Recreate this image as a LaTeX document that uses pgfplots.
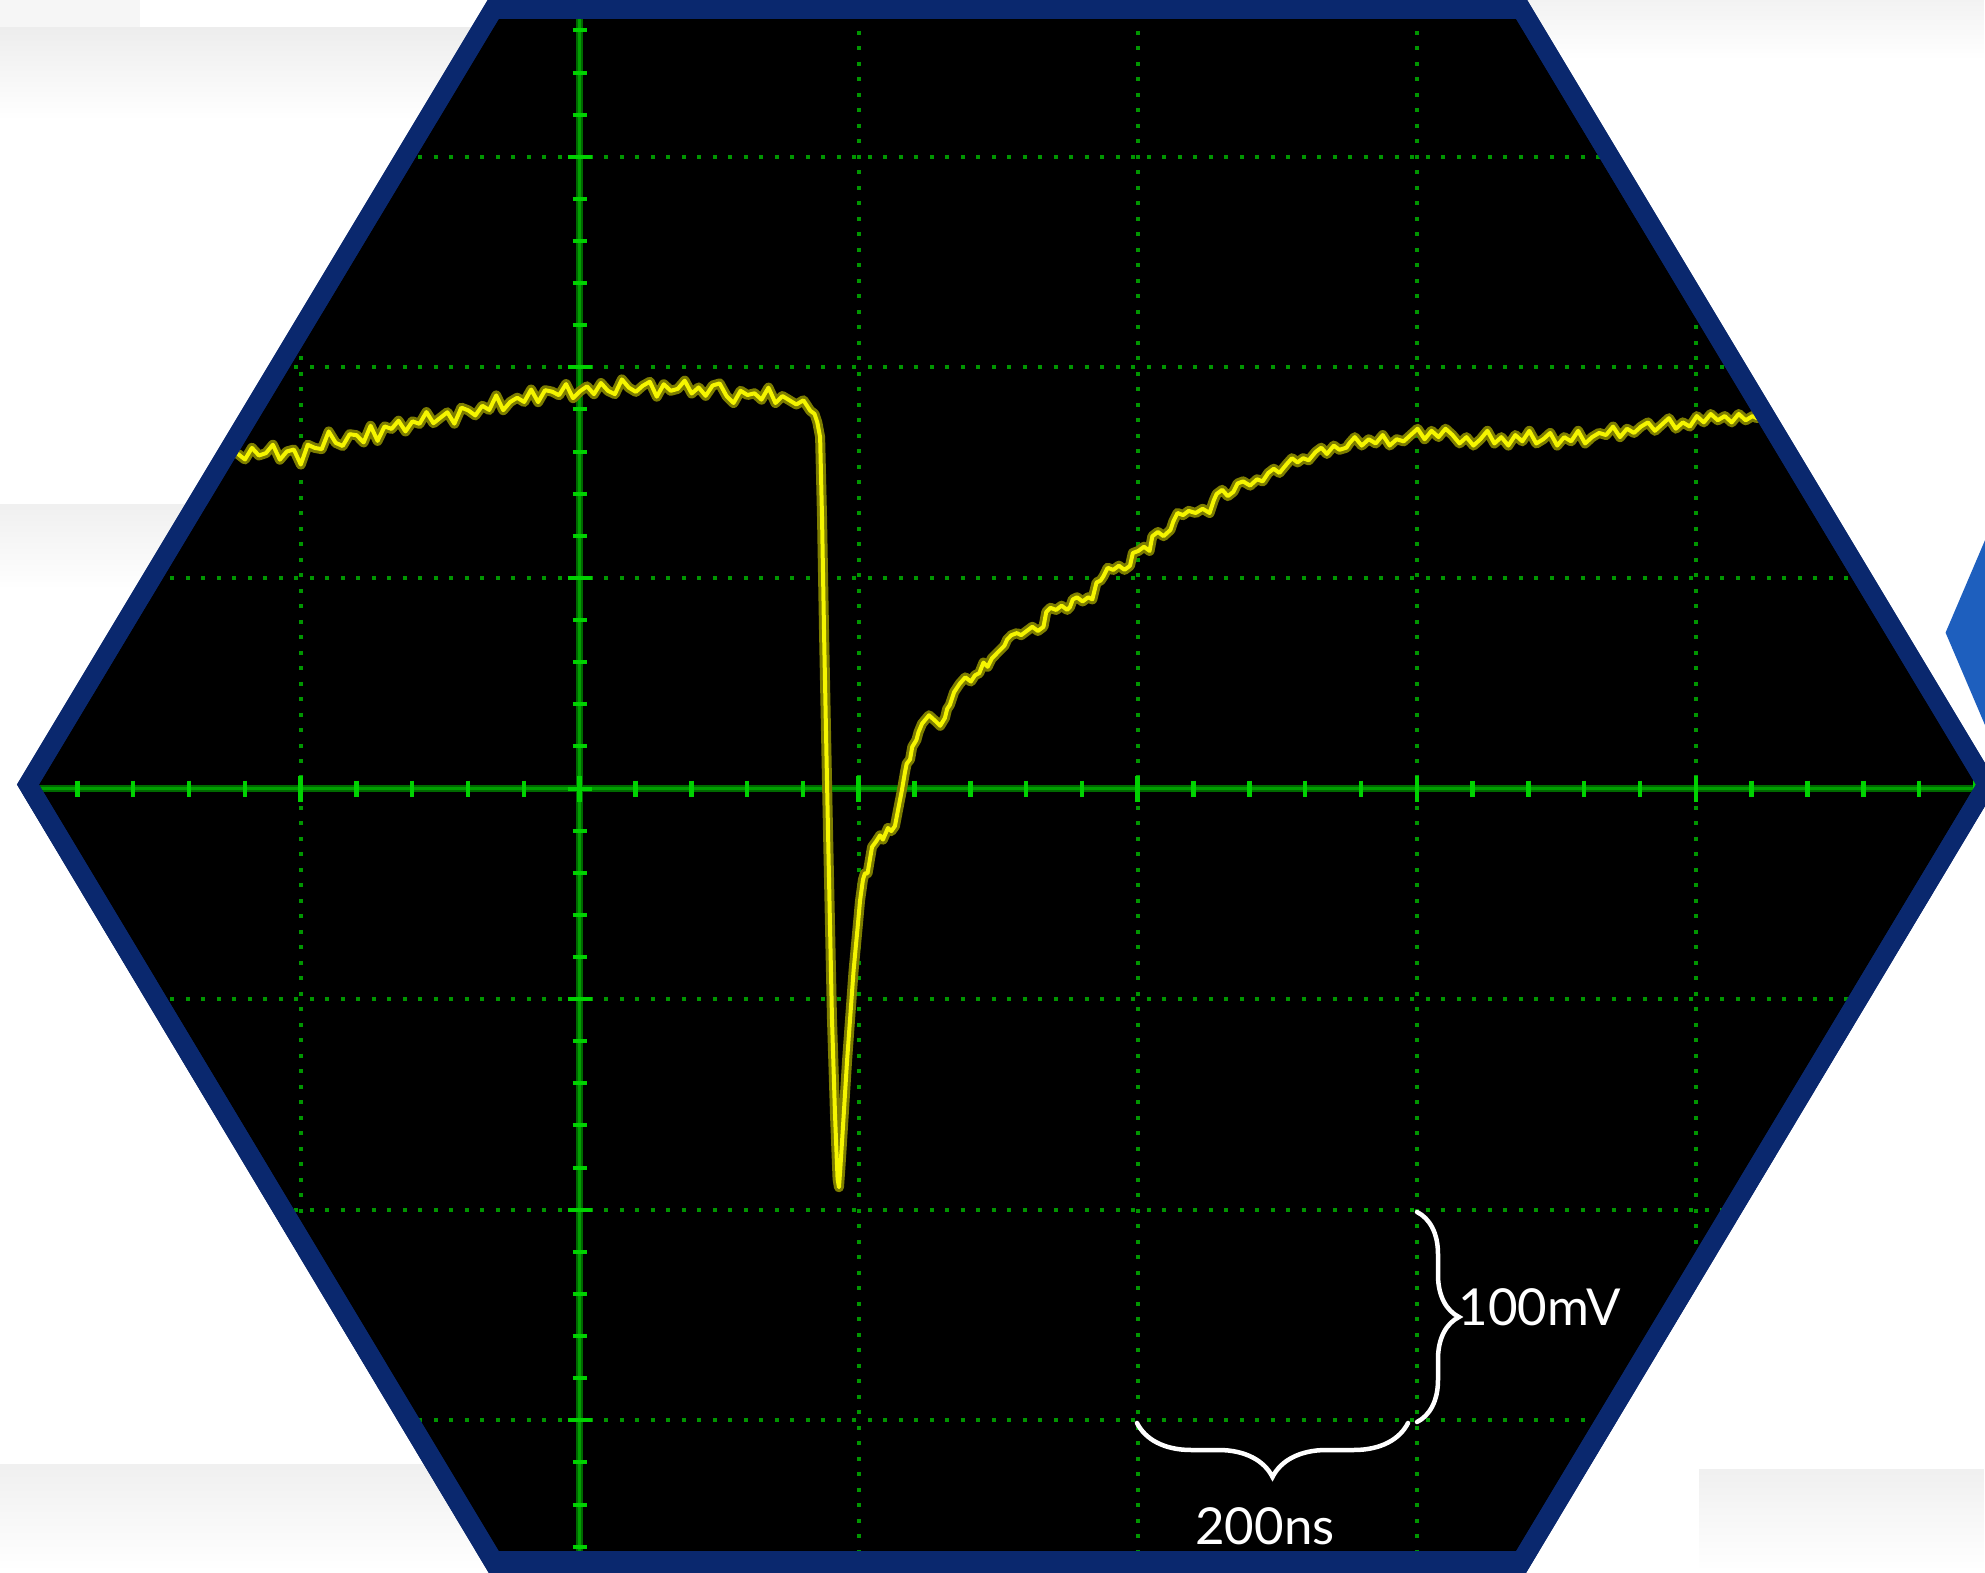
\documentclass[border=0pt]{standalone}
\usepackage{pgfplots}
\usepackage{pgfplotstable}
\pgfplotsset{compat=1.18}
\usetikzlibrary{decorations.pathreplacing}
\usepackage{fontspec}
\setmainfont{Lato}
\definecolor{navy}{RGB}{10,40,110}
\definecolor{sblue}{RGB}{30,95,190}
\definecolor{gridg}{RGB}{0,150,0}
\definecolor{axg}{RGB}{0,105,0}
\definecolor{axgl}{RGB}{0,160,0}
\definecolor{tickg}{RGB}{0,210,0}
\definecolor{olivetr}{RGB}{125,125,0}
\definecolor{yellowtr}{RGB}{245,245,0}

% time in ns (200 ns/div), voltage in mV (100 mV/div)
\pgfplotstableread{
t v
-245 159.0
-240 156.4
-235 161.9
-230 158.3
-225 159.4
-220 163.4
-215 156.3
-210 160.2
-205 161.1
-200 154.0
-195 163.4
-190 161.9
-185 161.3
-180 169.7
-175 164.3
-170 162.8
-165 168.4
-160 167.9
-155 164.5
-150 172.4
-145 165.2
-140 172.1
-135 170.9
-130 174.8
-125 169.7
-120 174.5
-115 173.3
-110 178.9
-105 173.6
-100 176.2
-95 178.8
-90 173.4
-85 181.0
-80 179.7
-75 177.3
-70 181.9
-65 179.9
-60 186.8
-55 179.8
-50 183.7
-45 185.7
-40 183.7
-35 189.6
-30 183.6
-25 189.3
-20 188.6
-15 186.9
-10 192.2
-5 185.5
0 188.8
5 191.1
10 187.4
15 192.7
20 189.0
25 187.4
30 194.4
35 190.5
40 188.5
45 191.4
50 193.3
55 186.2
60 192.1
65 189.0
70 189.9
75 193.8
80 187.7
85 190.6
90 186.6
95 191.5
100 192.5
105 186.5
110 183.2
115 189.0
120 187.0
125 187.8
130 184.8
135 190.5
140 183.2
145 186.5
150 184.5
155 182.5
160 184.5
165 179.5
168 178
170 174
172 167
173.4 128
174.8 75
176.2 28
177.6 -18
179 -62
180.5 -109
182.7 -155
184.5 -185
185.5 -189
186.5 -180
188.4 -160
191.3 -129
194.9 -96
196 -86
199.1 -64
200.6 -53
202.7 -43
204.1 -40
206 -40
209.2 -27.5
212 -25
214.9 -22
217 -24
220.6 -18.5
223 -20
225.6 -17.6
227.8 -10
230.6 -0.5
232.8 8
234 12
236.4 14
238 20
241 23.3
242.5 27
245 31
250 35
255 32
258 30
261.4 33.7
263 38
265 40
268 46
270 48
272 50
276 53
280 51
283 54
286 55
289 60
292 58
295 62
298 64
301 66
304 68
306 71
309 73
313 74
316 73
320 75
324 77
328 75
332 77
334 84
337 86
341 85
345 87
349 85
351 86.4
353 90
356 91
360 89
364 91
367 90
370 98
373 99
375 101
378 105
382 104
386 106
390 104
394 106
396 112
400 113
404 115
408 113
410 120
414 122
418 120
423 123
425 127
428 131
432 130
436 132
441 131
446 133
451 131
454 137
456 140
460 142
464 139
468 141
471 145
475 146
480 144
485 147
489 146
493 150
497 152
501 150
506 154
510 157
514 155
518 157
522 156
527 160
531 162
535 159
540 163
544 161
549 162
551 164
555 167
560 163
565 166
570 164
575 168
580 163
585 166
590 165
595 168
600 171
605 166
610 170
615 167
620 171
625 168
630 164
635 167
640 163
645 166
650 170
655 164
660 167
665 163
670 168
675 165
680 170
685 164
690 166
695 169
700 163
705 167
710 165
715 170
720 164
725 167
730 169
735 168
740 172
745 167
750 171
755 169
760 172
765 174
770 170
775 173
780 176
785 171
790 174
795 172
800 177
805 174
810 178
815 175
820 177
825 174
830 178
835 175
840 177
843 176
}\trace

\begin{document}
\begin{tikzpicture}
\path[use as bounding box] (0,0) rectangle (19.85cm,15.72cm);
\clip (0,0) rectangle (19.85cm,15.72cm);
% ---------- background, screen and graticule (pixel coordinates) ----------
\begin{scope}[shift={(0,15.72cm)}, x=0.01cm, y=-0.01cm]
  \fill[white] (0,0) rectangle (1985,1572);
  \fill[gray!7] (0,0) rectangle (140,28);
  \shade[top color=gray!14, bottom color=white] (0,28) rectangle (560,120);
  \shade[top color=gray!12, bottom color=white] (0,505) rectangle (560,590);
  \shade[top color=gray!12, bottom color=white] (0,1465) rectangle (560,1572);
  \shade[top color=gray!10, bottom color=white] (1480,0) rectangle (1985,60);
  \shade[top color=gray!12, bottom color=white] (1700,1470) rectangle (1985,1572);
  \fill[sblue] (1946.7,633) -- (2000,508) -- (2000,758) -- cycle;
  \fill[navy] (17,785) -- (489.2,-2) -- (1526.8,-2) -- (1999,785) -- (1526.8,1574) -- (489.2,1574) -- cycle;
  \fill[black] (39,785) -- (499,19) -- (1517,19) -- (1977,785) -- (1517,1552) -- (499,1552) -- cycle;
  \begin{scope}
    \clip (39,785) -- (499,19) -- (1517,19) -- (1977,785) -- (1517,1552) -- (499,1552) -- cycle;
    \foreach \yy in {156.9,367.6,578.3,999.7,1210.4,1421.1}
      \draw[gridg, line width=0.04cm, dash pattern=on 0.04cm off 0.115cm] (0,\yy) -- (1985,\yy);
    \foreach \xx in {300.8,859.2,1138.4,1417.6,1696.8}
      \draw[gridg, line width=0.04cm, dash pattern=on 0.04cm off 0.115cm] (\xx,0) -- (\xx,1572);
    \draw[axg, line width=0.07cm] (0,789) -- (1985,789);
    \draw[axgl, line width=0.03cm] (0,789) -- (1985,789);
    \draw[axg, line width=0.07cm] (580,0) -- (580,1572);
    \draw[axgl, line width=0.03cm] (580,0) -- (580,1572);
    \foreach \m in {-10,...,25}
      \draw[tickg, line width=0.045cm] ({580+55.84*\m},781) -- ({580+55.84*\m},797);
    \foreach \m in {-2,...,5}
      \draw[tickg, line width=0.045cm] ({580+279.2*\m},776) -- ({580+279.2*\m},802);
    \foreach \n in {-18,...,18}
      \draw[tickg, line width=0.04cm] (573,{789+42.14*\n}) -- (587,{789+42.14*\n});
    \foreach \n in {-3,...,3}
      \draw[tickg, line width=0.04cm] (568,{789+210.7*\n}) -- (592,{789+210.7*\n});
  \end{scope}
\end{scope}
% ---------- the trace ----------
\begin{axis}[at={(0,0)}, anchor=south west, scale only axis,
  width=19.85cm, height=15.72cm,
  xmin=-415.47, xmax=1006.45, ymin=-371.62, ymax=374.47,
  hide axis, clip=true]
  \addplot[olivetr, line width=0.10cm, line join=round, line cap=round, no marks] table[x=t, y=v] {\trace};
  \addplot[yellowtr, line width=0.04cm, line join=round, line cap=round, no marks] table[x=t, y=v] {\trace};
\end{axis}
% ---------- bezel and annotations ----------
\begin{scope}[shift={(0,15.72cm)}, x=0.01cm, y=-0.01cm]
  \fill[navy, even odd rule] (17,785) -- (489.2,-2) -- (1526.8,-2) -- (1999,785) -- (1526.8,1574) -- (489.2,1574) -- cycle
    (39,785) -- (499,19) -- (1517,19) -- (1977,785) -- (1517,1552) -- (499,1552) -- cycle;
\end{scope}
\draw[white, line width=0.045cm, line cap=round, decorate, decoration={brace, amplitude=0.42cm}]
  (14.17cm,3.60cm) -- (14.17cm,1.50cm);
\draw[white, line width=0.045cm, line cap=round, decorate, decoration={brace, amplitude=0.54cm}]
  (14.08cm,1.49cm) -- (11.37cm,1.49cm);
\node[anchor=base west, inner sep=0pt, text=white, font=\fontsize{14.5}{17}\selectfont] at (14.58cm,2.47cm) {100mV};
\node[anchor=base, inner sep=0pt, text=white, font=\fontsize{14.5}{17}\selectfont] at (12.65cm,0.28cm) {200ns};
\end{tikzpicture}
\end{document}
